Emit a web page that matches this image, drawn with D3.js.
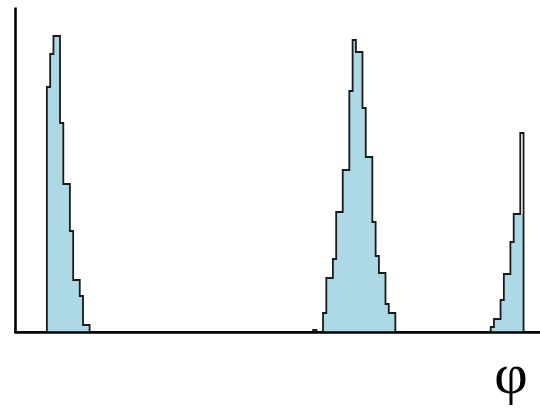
<!DOCTYPE html>
<html>
<head>
<meta charset="utf-8">
<script src="https://cdn.jsdelivr.net/npm/d3@7"></script>
<style>
  body { margin: 0; background: #fff; }
  svg { display: block; }
</style>
</head>
<body>
<svg id="chart" width="540" height="413"></svg>
<script>
// histogram of phi, counts per bin (bins are equal width, index along the axis)
const binTotal = 160;
const peak1Start = 10;
const peak1Counts = [245, 278, 296, 296, 209, 148, 148, 101, 52, 52, 36, 7, 7];
const peak2Start = 91;
const peak2Counts = [2, 0, 0, 19, 54, 54, 73, 120, 120, 162, 162, 241, 292, 280, 280,
                     224, 175, 175, 110, 76, 59, 59, 28, 19, 19];
const peak3Start = 145;
const peak3Counts = [5, 13, 13, 32, 58, 58, 90, 118, 118, 199];
const yMax = 325;
const xLabel = 'φ';

const svg = d3.select('#chart');
const width = +svg.attr('width');

const x = d3.scaleLinear().domain([0, binTotal]).range([14, width]);
const y = d3.scaleLinear().domain([0, yMax]).range([332, 7]);

// put every peak into one list of bins
let counts = new Array(binTotal).fill(0);
[[peak1Start, peak1Counts], [peak2Start, peak2Counts], [peak3Start, peak3Counts]]
    .forEach(([start, vals]) => vals.forEach((v, i) => { counts[start + i] = v; }));

// last filled bin keeps the height of the one before it (as in the original plot)
const lastIdx = peak3Start + peak3Counts.length - 1;
const fillCounts = counts.map((c, i) => i === lastIdx ? counts[i - 1] : c);

const stepPoints = vals => vals.map((c, i) => [i, c]).concat([[binTotal, 0]]);

const area = d3.area()
    .x(d => x(d[0]))
    .y0(y(0))
    .y1(d => y(d[1]))
    .curve(d3.curveStepAfter);

const line = d3.line()
    .x(d => x(d[0]))
    .y(d => y(d[1]))
    .curve(d3.curveStepAfter);

svg.append('path')
    .attr('d', area(stepPoints(fillCounts)))
    .attr('fill', '#add8e6')
    .attr('stroke', 'none');

svg.append('path')
    .attr('d', line(stepPoints(counts)))
    .attr('fill', 'none')
    .attr('stroke', '#1a1a1a')
    .attr('stroke-width', 1.8)
    .attr('stroke-linejoin', 'miter');

// axes: only the lines, no ticks
const xAxis = svg.append('g')
    .attr('transform', `translate(0,${y(0)})`)
    .call(d3.axisBottom(x).ticks(0).tickSizeOuter(0));
const yAxis = svg.append('g')
    .attr('transform', `translate(${x(0) + 1},0)`)
    .call(d3.axisLeft(y).ticks(0).tickSizeOuter(0));
[xAxis, yAxis].forEach(g => g.select('.domain')
    .attr('stroke', '#000')
    .attr('stroke-width', 2.6));

svg.append('text')
    .attr('x', 511)
    .attr('y', 393)
    .attr('text-anchor', 'middle')
    .attr('font-family', 'Liberation Serif, serif')
    .attr('font-size', 58)
    .attr('fill', '#000')
    .text(xLabel);
</script>
</body>
</html>
